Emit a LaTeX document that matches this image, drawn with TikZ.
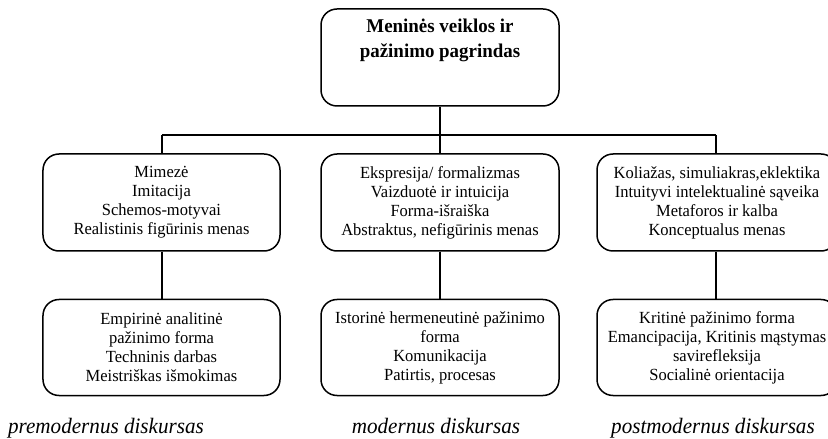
\documentclass[tikz,border=0pt]{standalone}
\usepackage{fontspec}
\setmainfont{Liberation Serif}
\newfontfamily\bodyfont{Liberation Serif}[FakeStretch=0.97]
\newfontfamily\headfont{Liberation Serif}[FakeStretch=0.97]
\newfontfamily\labfont{Liberation Serif}[FakeStretch=0.96]
\tikzset{
  box/.style={draw=black, line width=1.5bp, rounded corners=16bp, inner sep=0pt},
  body/.style={font=\bodyfont\fontsize{17bp}{19bp}\selectfont, align=center, inner sep=0pt},
  head/.style={font=\headfont\bfseries\fontsize{19.5bp}{25bp}\selectfont, align=center, inner sep=0pt},
  lab/.style={font=\labfont\itshape\fontsize{22bp}{24bp}\selectfont, inner sep=0pt, anchor=base},
  conn/.style={draw=black, line width=1.8bp}
}
\begin{document}
\begin{tikzpicture}[x=1bp,y=-1bp]
\useasboundingbox (0,0) rectangle (828,439);
% top box
\node[box, minimum width=238bp, minimum height=97bp] (top) at (440,57.5) {};
\node[head, anchor=north] (toptext) at (440,19) {Meninės veiklos ir\\pažinimo pagrindas};
% junctions
\coordinate (jl) at (162,135);
\coordinate (jm) at (440,135);
\coordinate (jr) at (716,135);
% middle row
\node[box, body, minimum width=237bp, minimum height=97bp] (m1) at (161.5,202.5) {Mimezė\\Imitacija\\Schemos-motyvai\\Realistinis figūrinis menas};
\node[box, body, minimum width=238bp, minimum height=97bp] (m2) at (440,202.5) {Ekspresija/ formalizmas\\Vaizduotė ir intuicija\\Forma-išraiška\\Abstraktus, nefigūrinis menas};
\node[box, body, minimum width=240bp, minimum height=97bp] (m3) at (717,202.5) {Koliažas, simuliakras,eklektika\\Intuityvi intelektualinė sąveika\\Metaforos ir kalba\\Konceptualus menas};
% bottom row
\node[box, body, minimum width=237bp, minimum height=96bp] (b1) at (161.5,347.5) {Empirinė analitinė\\pažinimo forma\\Techninis darbas\\Meistriškas išmokimas};
\node[box, body, minimum width=238bp, minimum height=96bp] (b2) at (440,347.5) {Istorinė hermeneutinė pažinimo\\forma\\Komunikacija\\Patirtis, procesas};
\node[box, body, minimum width=240bp, minimum height=96bp] (b3) at (717,347.5) {Kritinė pažinimo forma\\Emancipacija, Kritinis mąstymas\\savirefleksija\\Socialinė orientacija};
% connectors
\draw[conn] (top.south) -- (jm);
\draw[conn] (jl) -- (jr);
\draw[conn] (jl) -- (jl |- m1.north);
\draw[conn] (jm) -- (m2.north);
\draw[conn] (jr) -- (jr |- m3.north);
\draw[conn] (jl |- m1.south) -- (jl |- b1.north);
\draw[conn] (m2.south) -- (b2.north);
\draw[conn] (jr |- m3.south) -- (jr |- b3.north);
% labels
\node[lab] (l1) at (106,433) {premodernus diskursas};
\node[lab] (l2) at (436,433) {modernus diskursas};
\node[lab] (l3) at (713,433) {postmodernus diskursas};
\end{tikzpicture}
\end{document}
